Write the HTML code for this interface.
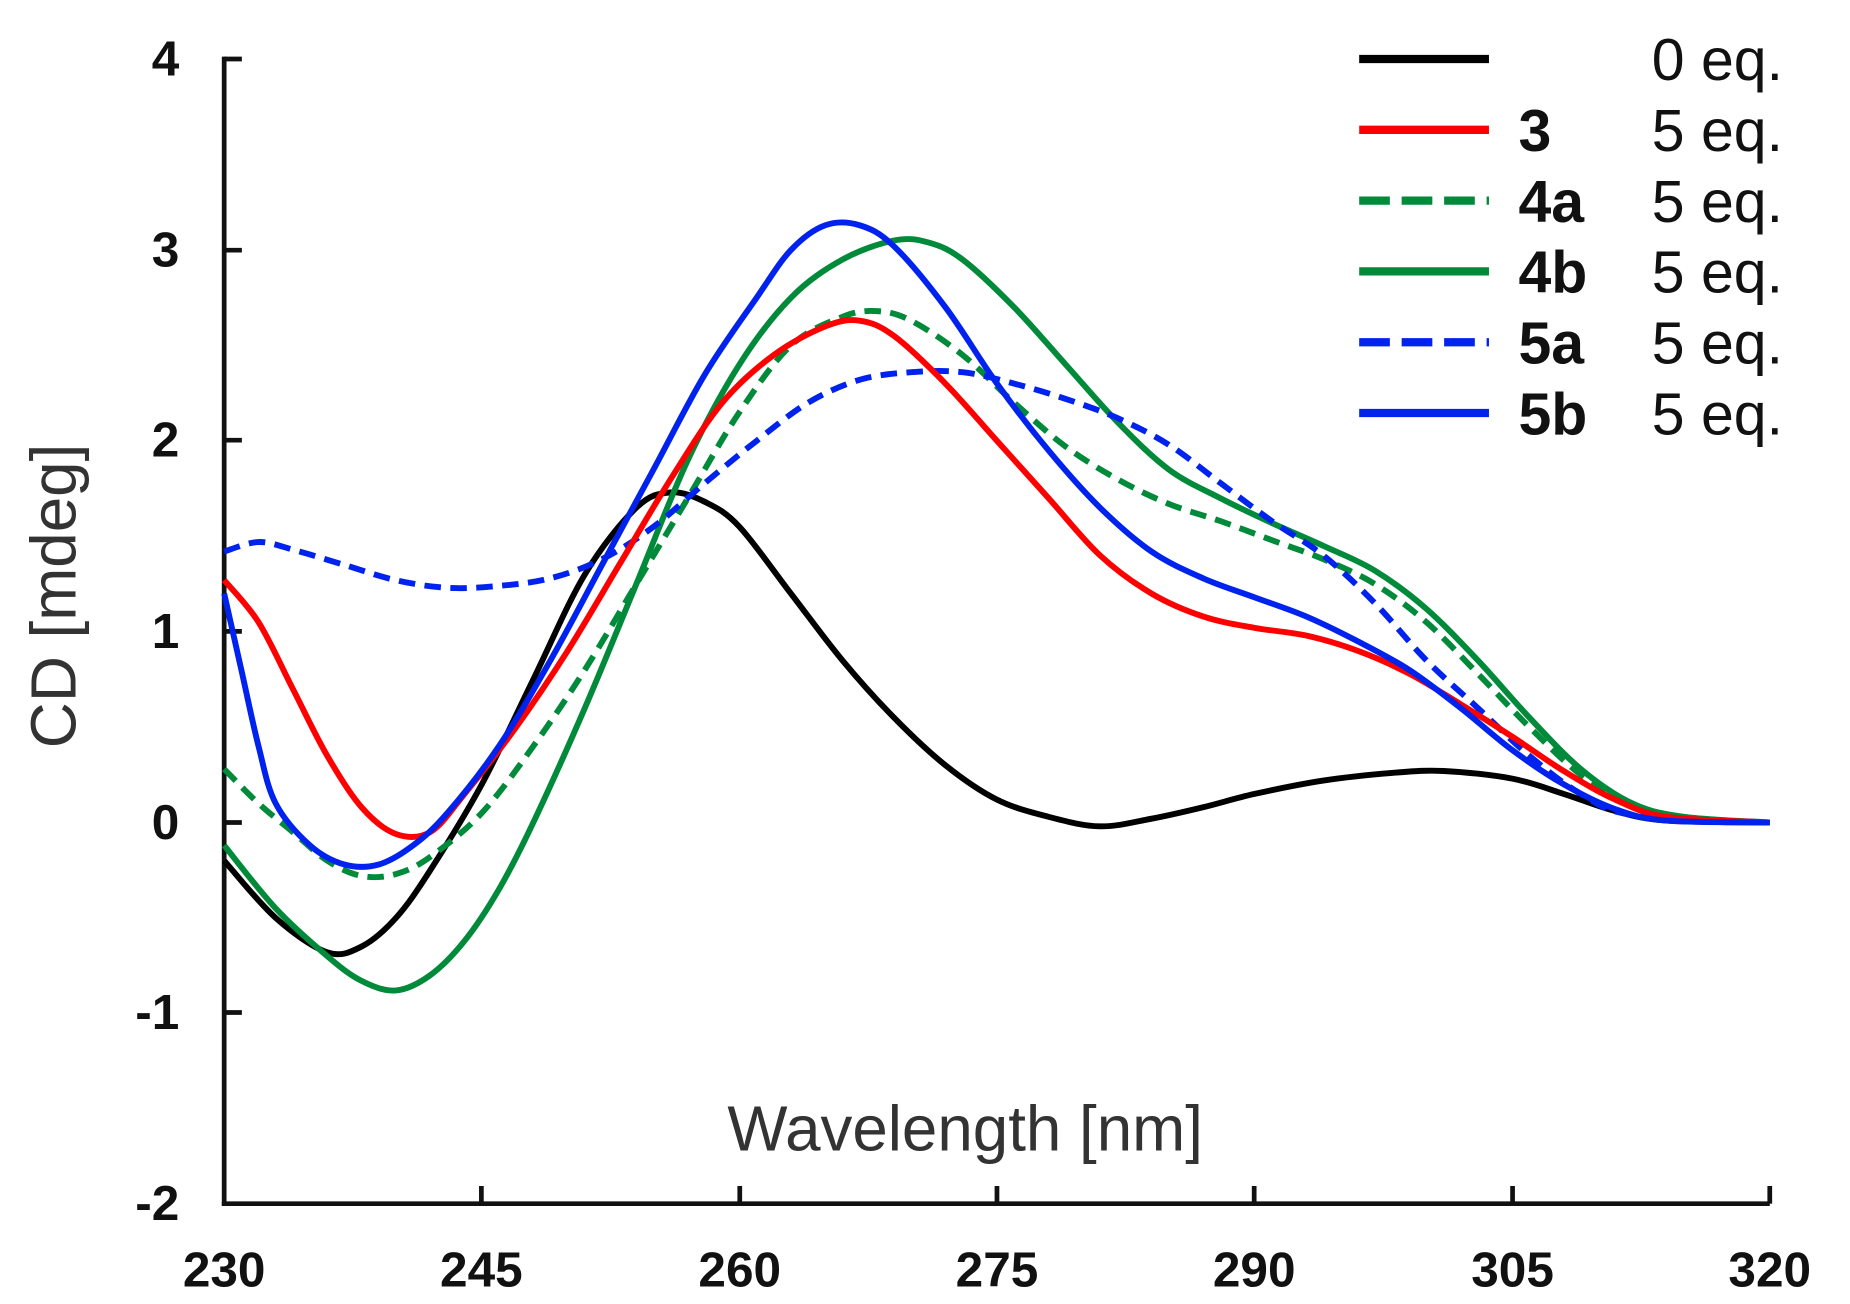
<!DOCTYPE html><html><head><style>html,body{margin:0;padding:0;background:#fff}svg{display:block}</style></head><body>
<svg id="s" width="1850" height="1304" viewBox="0 0 1568 1105" preserveAspectRatio="none" xmlns="http://www.w3.org/2000/svg" font-family="Liberation Sans, Arial, sans-serif">
<g stroke="#111" stroke-width="4" fill="none">
<line x1="190" y1="48" x2="190" y2="1022"/>
<line x1="188" y1="1020" x2="1500" y2="1020"/>
<line x1="190" y1="50" x2="205" y2="50"/><line x1="190" y1="212" x2="205" y2="212"/><line x1="190" y1="373" x2="205" y2="373"/><line x1="190" y1="535" x2="205" y2="535"/><line x1="190" y1="697" x2="205" y2="697"/><line x1="190" y1="858" x2="205" y2="858"/>
<line x1="408" y1="1020" x2="408" y2="1005"/><line x1="627" y1="1020" x2="627" y2="1005"/><line x1="845" y1="1020" x2="845" y2="1005"/><line x1="1063" y1="1020" x2="1063" y2="1005"/><line x1="1282" y1="1020" x2="1282" y2="1005"/><line x1="1500" y1="1020" x2="1500" y2="1005"/>
</g>
<g font-size="42" font-weight="bold" fill="#111" text-anchor="end">
<text x="152" y="64">4</text><text x="152" y="226">3</text><text x="152" y="387">2</text><text x="152" y="549">1</text><text x="152" y="711">0</text><text x="152" y="872">-1</text><text x="152" y="1034">-2</text>
</g>
<g font-size="42" font-weight="bold" fill="#111" text-anchor="middle">
<text x="190" y="1090">230</text><text x="408" y="1090">245</text><text x="627" y="1090">260</text><text x="845" y="1090">275</text><text x="1063" y="1090">290</text><text x="1282" y="1090">305</text><text x="1500" y="1090">320</text>
</g>
<text x="818" y="975" font-size="54" fill="#333" text-anchor="middle">Wavelength [nm]</text>
<text transform="translate(64,505) rotate(-90)" font-size="54" fill="#333" text-anchor="middle">CD [mdeg]</text>
<g id="curves" fill="none" stroke-width="5" stroke-linejoin="round"></g>
<g stroke-width="7">
<line x1="1152" y1="50" x2="1262" y2="50" stroke="#000"/>
<line x1="1152" y1="110" x2="1262" y2="110" stroke="#f00"/>
<line x1="1152" y1="170" x2="1262" y2="170" stroke="#008a3a" stroke-dasharray="26,10"/>
<line x1="1152" y1="230" x2="1262" y2="230" stroke="#008a3a"/>
<line x1="1152" y1="290" x2="1262" y2="290" stroke="#0022ee" stroke-dasharray="26,10"/>
<line x1="1152" y1="350" x2="1262" y2="350" stroke="#0022ee"/>
</g>
<g font-size="50" fill="#111">
<text x="1400" y="68">0 eq.</text>
<text x="1287" y="128" font-weight="bold">3</text><text x="1400" y="128">5 eq.</text>
<text x="1287" y="188" font-weight="bold">4a</text><text x="1400" y="188">5 eq.</text>
<text x="1287" y="248" font-weight="bold">4b</text><text x="1400" y="248">5 eq.</text>
<text x="1287" y="308" font-weight="bold">5a</text><text x="1400" y="308">5 eq.</text>
<text x="1287" y="368" font-weight="bold">5b</text><text x="1400" y="368">5 eq.</text>
</g>
</svg>
<script>
var D=[
["#000","",[230,-0.2,233,-0.5,236,-0.68,238,-0.65,240,-0.5,242,-0.25,245,0.2,248,0.75,251,1.3,254,1.65,256,1.73,258,1.68,260,1.55,263,1.2,266,0.85,269,0.55,272,0.3,275,0.12,278,0.03,281,-0.02,284,0.02,287,0.08,290,0.15,294,0.22,298,0.26,301,0.27,305,0.23,308,0.15,311,0.06,314,0.01,320,0]],
["#008a3a","14,8",[230,0.28,232,0.1,234,-0.05,236,-0.2,238,-0.28,240,-0.27,242,-0.18,245,0.05,248,0.4,251,0.8,254,1.25,257,1.7,260,2.15,263,2.5,266,2.65,268,2.68,270,2.63,273,2.45,276,2.2,279,1.97,282,1.8,285,1.67,288,1.58,291,1.48,294,1.38,297,1.25,300,1.05,303,0.78,306,0.5,309,0.25,312,0.09,315,0.02,320,0]],
["#008a3a","",[230,-0.12,233,-0.45,236,-0.7,238,-0.83,240,-0.88,242,-0.8,244,-0.62,246,-0.35,248,0,251,0.6,254,1.25,257,1.9,260,2.4,263,2.75,266,2.95,269,3.05,271,3.04,273,2.95,276,2.7,279,2.4,282,2.1,285,1.85,288,1.7,291,1.57,294,1.45,297,1.32,300,1.12,303,0.85,306,0.55,309,0.28,312,0.1,315,0.03,320,0]],
["#0022ee","14,8",[230,1.42,232,1.47,234,1.43,237,1.35,240,1.27,243,1.23,246,1.24,249,1.28,252,1.38,255,1.55,258,1.78,261,2.0,264,2.2,267,2.32,270,2.36,273,2.36,276,2.3,279,2.22,282,2.12,285,1.98,288,1.78,291,1.58,294,1.4,297,1.15,300,0.85,303,0.6,306,0.35,309,0.15,312,0.04,320,0]],
["#f00","",[230,1.27,232,1.05,234,0.7,236,0.35,238,0.08,240,-0.06,242,-0.05,244,0.15,247,0.5,250,0.9,253,1.35,256,1.8,259,2.2,262,2.45,265,2.6,267,2.63,269,2.55,272,2.3,275,2.0,278,1.7,281,1.4,284,1.2,287,1.08,290,1.02,293,0.98,296,0.9,299,0.78,302,0.62,305,0.45,308,0.27,311,0.12,314,0.03,320,0]],
["#0022ee","",[230,1.2,231,0.8,232,0.4,233,0.1,235,-0.12,237,-0.22,239,-0.22,241,-0.12,243,0.05,246,0.4,249,0.85,252,1.35,255,1.85,258,2.35,261,2.75,263,3.0,265,3.13,267,3.13,269,3.02,272,2.7,275,2.3,278,1.95,281,1.65,284,1.42,287,1.28,290,1.18,293,1.08,296,0.95,299,0.8,302,0.6,305,0.38,308,0.2,311,0.07,314,0.01,320,0]]
];
var g=document.getElementById("curves"),ns="http://www.w3.org/2000/svg";
D.forEach(function(c){var a=c[2],p=[];for(var i=0;i<a.length;i+=2)p.push([190+(a[i]-230)*14.556,697-161.7*a[i+1]]);
var d="M"+p[0][0]+","+p[0][1];for(var i=0;i<p.length-1;i++){var p0=p[i-1]||p[i],p1=p[i],p2=p[i+1],p3=p[i+2]||p2;
d+="C"+(p1[0]+(p2[0]-p0[0])/6)+","+(p1[1]+(p2[1]-p0[1])/6)+" "+(p2[0]-(p3[0]-p1[0])/6)+","+(p2[1]-(p3[1]-p1[1])/6)+" "+p2[0]+","+p2[1];}
var e=document.createElementNS(ns,"path");e.setAttribute("d",d);e.setAttribute("stroke",c[0]);if(c[1])e.setAttribute("stroke-dasharray",c[1]);g.appendChild(e);});
</script>
</body></html>
